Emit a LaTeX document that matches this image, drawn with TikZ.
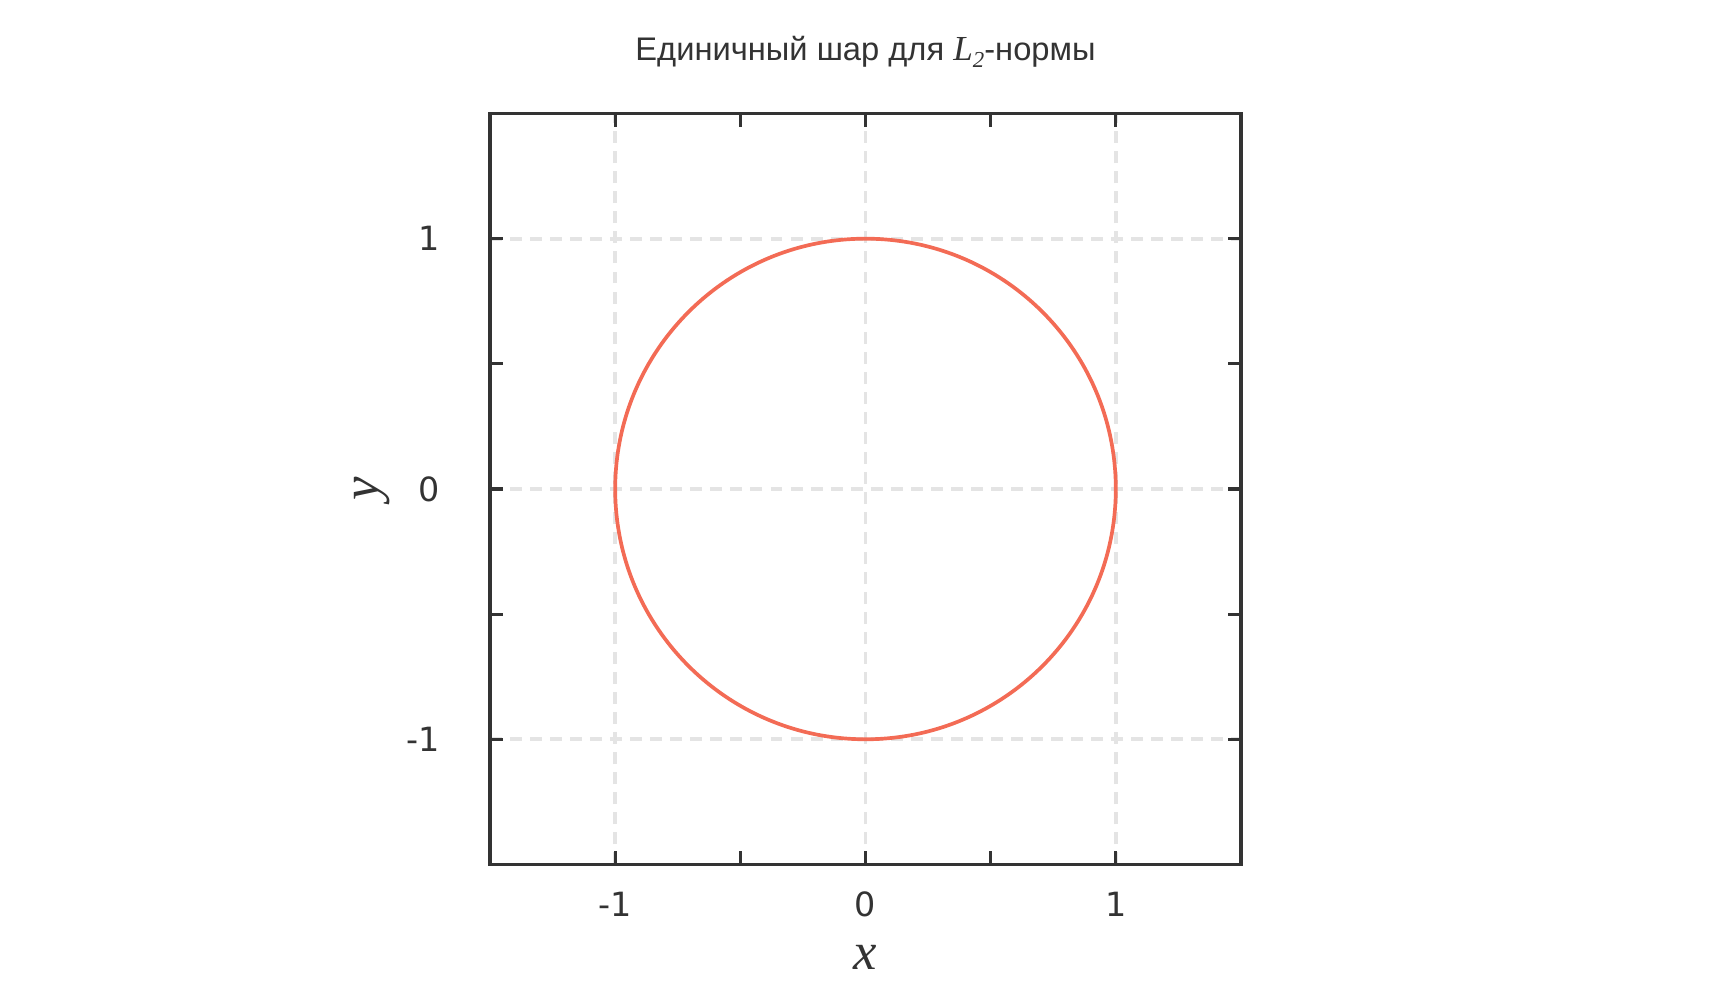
\documentclass[tikz,border=0pt]{standalone}
\usepackage{fontspec}
\setmainfont{DejaVu Sans}
\newfontfamily\titlefont{Liberation Sans}
\newfontfamily\varfont{Liberation Serif}
\usetikzlibrary{positioning}
\definecolor{axisgray}{HTML}{333333}
\definecolor{gridgray}{HTML}{E4E4E4}
\definecolor{ballred}{HTML}{F36B55}

\begin{document}
\begin{tikzpicture}[x=2.503cm,y=2.503cm,
	frame/.style={draw=axisgray,line width=0.9pt},
	gridline/.style={draw=gridgray,line width=1.05pt,dash pattern=on 3.4pt off 2.3pt},
	tickmark/.style={draw=axisgray,line width=0.9pt},
	ticklabel/.style={inner sep=0pt,text=axisgray,font=\fontsize{9.5}{10}\selectfont},
	axislabel/.style={inner sep=0pt,text=axisgray,font=\varfont\itshape\fontsize{15}{16}\selectfont}]
	\useasboundingbox (-8.655cm,-5.11cm) rectangle (8.585cm,4.89cm);
	% grid
	\foreach \v in {-1,0,1} {
		\draw[gridline] (\v,-1.5) -- (\v,1.5);
		\draw[gridline] (-1.5,\v) -- (1.5,\v);
	}
	% unit ball
	\draw[ballred,line width=1.05pt] (0,0) circle (1);
	% frame and ticks
	\draw[frame] (-1.5,-1.5) rectangle (1.5,1.5);
	\foreach \v in {-1,-0.5,0,0.5,1} {
		\draw[tickmark] (\v,-1.5) -- ++(0,0.13cm);
		\draw[tickmark] (\v,1.5) -- ++(0,-0.13cm);
		\draw[tickmark] (-1.5,\v) -- ++(0.13cm,0);
		\draw[tickmark] (1.5,\v) -- ++(-0.13cm,0);
	}
	% tick labels
	\foreach \v/\n in {-1/m,0/z,1/p} {
		\node[ticklabel,anchor=north,yshift=-0.27cm] (xtick\n) at (\v,-1.5) {\v};
		\node[ticklabel,anchor=east,xshift=-0.5cm] (ytick\n) at (-1.5,\v) {\v};
	}
	% labels
	\node[axislabel,anchor=base] (xlabel) at (0,-4.81cm) {x};
	\node[axislabel,rotate=90] (ylabel) at (-4.935cm,0) {y};
	\node[anchor=base,inner sep=0pt,text=axisgray,font=\titlefont\fontsize{9.3}{11}\selectfont] (title) at (0,4.28cm)
		{Единичный шар для {\varfont\itshape\fontsize{10}{11}\selectfont L\raisebox{-0.4ex}{\fontsize{6.5}{8}\selectfont 2}}-нормы};
\end{tikzpicture}
\end{document}
